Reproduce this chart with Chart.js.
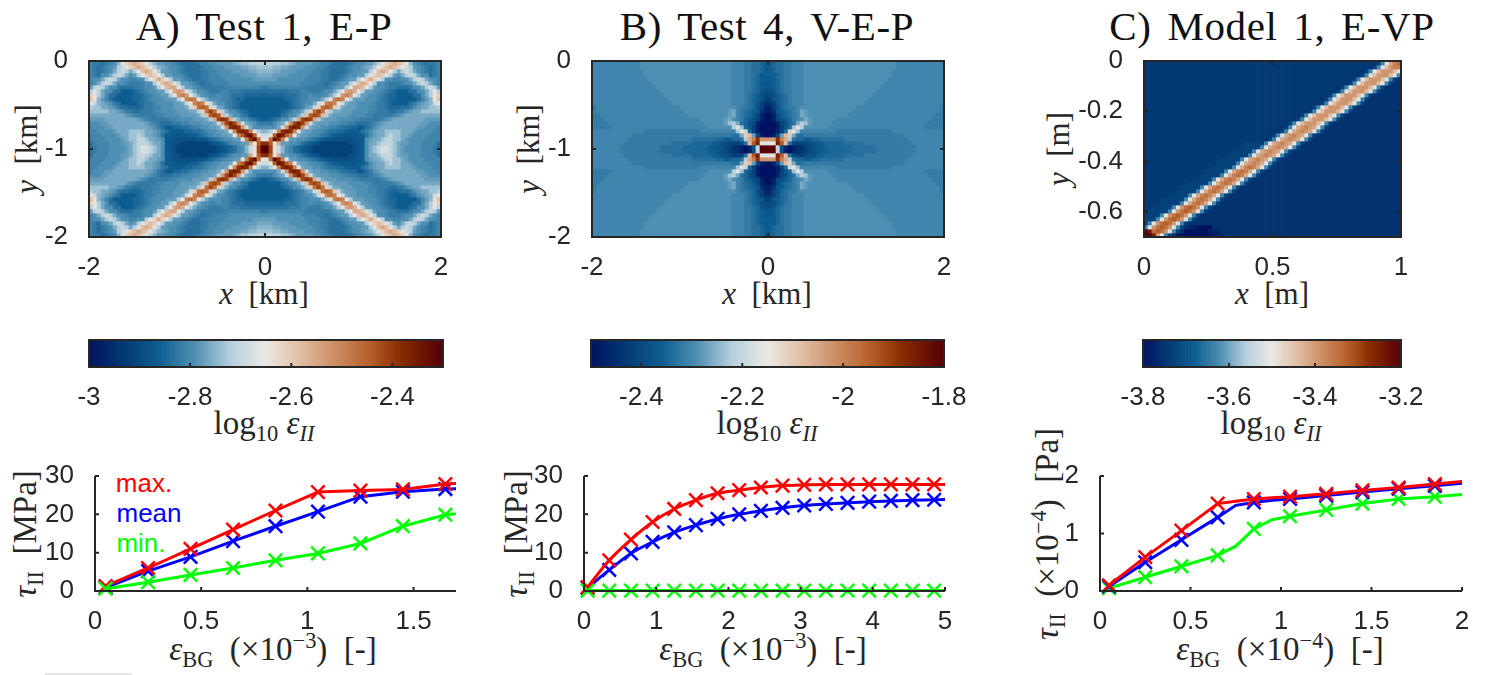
<!DOCTYPE html>
<html>
<head>
<meta charset="utf-8">
<title>Strain rate and stress panels</title>
<script src="https://cdn.jsdelivr.net/npm/chart.js@4"></script>
<style>
  html, body { margin: 0; background: #fff; width: 1492px; height: 675px; overflow: hidden; }
  canvas { position: absolute; }
  .lab { position: absolute; transform: translate(-50%, -50%); white-space: nowrap; font-family: "Liberation Serif", serif; font-size: 31px; color: #262626; }
  .big { font-size: 33px; }
  .rot { transform: translate(-50%, -50%) rotate(-90deg); }
  .ttl { font-size: 41px; letter-spacing: 0.6px; word-spacing: 5px; color: #111; }
  .leg { font-family: "Liberation Sans", sans-serif; font-size: 26px; }
  sub, sup { font-size: .68em; line-height: 0; }
</style>
</head>
<body>
<div class="lab ttl" style="left:264px;top:26px">A) Test 1, E-P</div>
<div class="lab ttl" style="left:767px;top:26px">B) Test 4, V-E-P</div>
<div class="lab ttl" style="left:1272px;top:26px">C) Model 1, E-VP</div>

<div class="lab" style="left:264px;top:294px"><i>x</i>&nbsp; [km]</div>
<div class="lab" style="left:767px;top:294px"><i>x</i>&nbsp; [km]</div>
<div class="lab" style="left:1272px;top:294px"><i>x</i>&nbsp; [m]</div>
<div class="lab rot" style="left:27px;top:149px"><i>y</i>&nbsp; [km]</div>
<div class="lab rot" style="left:529px;top:149px"><i>y</i>&nbsp; [km]</div>
<div class="lab rot" style="left:1059px;top:149px"><i>y</i>&nbsp; [m]</div>

<div class="lab big" style="left:264px;top:423px">log<sub>10</sub> <i>ε<sub>II</sub></i></div>
<div class="lab big" style="left:767px;top:423px">log<sub>10</sub> <i>ε<sub>II</sub></i></div>
<div class="lab big" style="left:1271px;top:423px">log<sub>10</sub> <i>ε<sub>II</sub></i></div>

<div class="lab rot big" style="left:25px;top:534px"><i>τ</i><sub>II</sub>&nbsp; [MPa]</div>
<div class="lab rot big" style="left:516px;top:534px"><i>τ</i><sub>II</sub>&nbsp; [MPa]</div>
<div class="lab rot big" style="left:1047px;top:534px"><i>τ</i><sub>II</sub>&nbsp; (×10<sup>−4</sup>) &nbsp;[Pa]</div>

<div class="lab big" style="left:273px;top:649px"><i>ε</i><sub>BG</sub>&nbsp; (×10<sup>−3</sup>) &nbsp;[-]</div>
<div class="lab big" style="left:763px;top:649px"><i>ε</i><sub>BG</sub>&nbsp; (×10<sup>−3</sup>) &nbsp;[-]</div>
<div class="lab big" style="left:1280px;top:649px"><i>ε</i><sub>BG</sub>&nbsp; (×10<sup>−4</sup>) &nbsp;[-]</div>

<div class="lab leg" style="left:144px;top:483px;color:#ff0000">max.</div>
<div class="lab leg" style="left:149px;top:513px;color:#0000ff">mean</div>
<div class="lab leg" style="left:141px;top:543px;color:#00ff00">min.</div>
<div style="position:absolute;left:45px;top:673px;width:87px;height:2px;background:#e8e8e8"></div>

<script>
// Colour levels: a..z run from the bottom to the top of the colour bar,
// a capital is half a step above its small letter. "c12" means c repeated 12 times,
// spaces are only there to keep rows readable.
// Panels A and B are symmetric, so only the top left quarter is kept.
const testOneQuarter = [
  "hGGgGhHj mopqpom kjiiHH hGggggGhhH HiiiiIjJJkkKK",
  "hGgGhHikl mopqpom kjIiH HhGggggGhh HHHiiiiIIjjJJ",
  "hGgGhHIklkI kmpqpmk iiHH hGggggGGh hHHHHiiiiIIjj",
  "hGgHHIklkIHi kmopomk iiHH hGgggGGh hhHHHHHiiiiII",
  "hHHIklkIHHhhHH kmoqomk iiH hGggGGh hhhHHHHHHHiii",
  "hHIklkIHHhGGGhHH kmpqpmk iiH hGgGGh hhhHHHHHHHHH",
  "iklkIHHGgggGGhHHi kmpqqmk iiH hGGGGG GhhhhhhhhhG",
  "kmkIHHggfffFgGhHHii kmqrqmk IHH hGGGhh GGGgggggg",
  "onkIHggffffFFgGhHHii kmrsrmk IHH hhHhhG gggFFFFF",
  "pnjihgfffffFFgGhHHHiii kmstsmk IHH HhhGg FFfffff",
  "mljIiHGgffffFgGGhHHHHiiI lnstsnl IHH hGgF ffffff",
  "kJJIIiHGggFFFgGGhhHHHiiiI lotutol Iih GgFf fffff",
  "JJJJJIIiHGGggGGGhhHHHHiiiII kotvtok IHH GgFf fff",
  "IIIIIIIIIiHhGGGGGhhHHHHiiiiI kpuvupk IHH Ggff ff",
  "iiiiIIIIIIIIiHhGGGGGhhHHHHiiiI kqvwvqk IHH GgFf",
  "HHHiiIIIIIIIIIiHhGgggGGhhHHHiiiI lrvxvrl IiH GG",
  "hHHHiiIIIIIIIIIiHGgffFFggGhhHHiiI lrwxwrl IHHH",
  "hhHHHHiIIIJJJJIIiHGgffffFFggGhHHiiI mswxwsm kj",
  "hhhHHHHiIIJJKJIIiHgffEEEEffFgGhHHiiI msuxyum l",
  "hhhhHHHHiIJJKKJIIiHfEEeeeeeEEfFgGhHHii mswytn",
  "ghhhhHHHiiIJKKKJIIHfEeedddddddeEfFghHHii qnuw",
  "gGhhhHHHHiIJKLLKJIHfEeddddddddddeEfFghHj lnvz",
];

const testFourQuarter = [
  "hhhhhhhhhh hhHHHHHHHHHHHHHHH HHHHHHHHh hhGGg gFf",
  "hhhhhhhhhh hhHHHHHHHHHHHHHHH HHHHHHHHh hhGGg gFf",
  "hhhhhhhhhh hhhHHHHHHHHHHHHHH HHHHHHHHh hhGGg gFf",
  "hhhhhhhhhh hhhHHHHHHHHHHHHHH HHHHHHHHh hhGGg Fff",
  "hhhhhhhhhh hhhhHHHHHHHHHHHHH HHHHHHHHh hhGGg Fff",
  "hhhhhhhhhh hhhhhHHHHHHHHHHHH HHHHHHHHh hhGGg FfE",
  "hhhhhhhhhh hhhhhhHHHHHHHHHHH HHHHHHHHh hhGGg FfE",
  "hhhhhhhhhh hhhhhhhHHHHHHHHHH HHHHHHHHh hhGGg FEe",
  "hhhhhhhhhh hhhhhhhhHHHHHHHHH HHHHHHHHh hhGgF feD",
  "hhhhhhhhhh hhhhhhhhhHHHHHHHH HHHHHHHHh hhGgF fEd",
  "hhhhhhhhhh hhhhhhhhhhHHHHHHH HHHHHHHHh hhGgF Edc",
  "Ghhhhhhhhh hhhhhhhhhhhhHHHHH HHHHHHHHH hGGgF edb",
  "Ghhhhhhhhh hhhhhhhhhhhhhHHHH HHHHHHHiI hGgFf Ecb",
  "GGhhhhhhhh hhhhhhhhhhhhhhHHH HHHHHHHiI hGgFf Dba",
  "GGGhhhhhhh hhhhhhhhhhhhhhhhh HHHHHHiIH hGFfe Dba",
  "GGGGhhhhhh hhhhhhhhhhhhhhhhh hHHHHHiJk IgFeD baa",
  "GGGGGhhhhh hhhhhhhhhhhhhhhhh hhHHHHHHk mJFEd baa",
  "hhhhhhhhhh hhhGGGGGGGGGGGGGG hhhhhhhhh JnlFd baa",
  "hhhhhhhhhh GGGGGGGGGGGGGGGGG GGGGGGGGg gIopi Dba",
  "hhhhhhhhhG GGGGGGGGGGGGGGGgg ggggFFffF Fgkqs wrr",
  "hhhhhhhhGG GGGGGGGGGGgggggFF FFFffeeDd dDgpu xmm",
  "hhhhhhhGGG GGGGGGGggggggFFFF FFffEeDdc cbabe lzz",
];

const modelOneRows = [
  "C57 cdhmqst",
  "C56 cdhmprss",
  "C54 cdhmprrrpm",
  "C53 cdhmprrrpmh",
  "C51 cdhmprrrpmhdc",
  "C50 cdhmprrrpmhdc c1",
  "C48 cdhmprrrpmhdc c3",
  "C47 cdhmprrrpmhdc c4",
  "C45 cdhmprrrpmhdc c6",
  "C44 cdhmprrrpmhdc c7",
  "C43 cdhmprrrpmhdc c8",
  "C41 cdhmprrrpmhdc c10",
  "C40 cdhmprrrpmhdc c11",
  "C38 cdhmprrrpmhdc c13",
  "C37 cdhmprrrpmhdc c14",
  "C35 cdhmprrrpmhdc c16",
  "C34 cdhmqrsrqmhdc c17",
  "C33 cdhmqrsrqmhdc c18",
  "C31 cdhmqrsrqmhdc c20",
  "C30 cdhmqrsrqmhdc c21",
  "C25 d3 ddhmqrsrqmhdc c23",
  "C24 d3 ddhmqrsrqmhdc c24",
  "C22 d3 ddhmqrsrqmhdc c26",
  "C21 d3 ddhmqrsrqmhdc c27",
  "C19 d3 ddhmqrsrqmhdc c29",
  "C18 d3 ddhmqrsrqmhdc c30",
  "C17 d3 ddhmqstsqmhdc c31",
  "C15 d3 ddhmqstsqmhdc c33",
  "C14 d3 ddhmqstsqmhdc c34",
  "C12 d3 ddhmqstsqmhdc c36",
  "C11 d3 ddhmqstsqmhdc c37",
  "C9 d3 ddhmqstsqmhdc c39",
  "C8 d3 ddhmqstsqmhdc c40",
  "C6 d3 ddhmqstsqmhdc c42",
  "C5 d3 ddhmqstsqmhdc c43",
  "C4 d3 ddhmqstsqmhdc c44",
  "C2 d3 ddhmrtutrmhdc c46",
  "C1 d3 ddhmrtutrmhdc c47",
  "d2 ddhmrtutrmhdc c49",
  "d1 ddhmrtutrmhdc c50",
  "dhmrtutrmhdc c52",
  "hmrtutrmhdc b2 a4 c47",
  "zxtutrmhdc a6 b3 c45",
  "zzxrmhdc a9 b3 c44",
];

// Stress curves, panel A
const xA = [0.05, 0.25, 0.45, 0.65, 0.85, 1.05, 1.25, 1.45, 1.65, 1.85];
const maxA = [1.3, 6, 11, 16, 21, 25.8, 26.2, 26.5, 27.9, 28.5];
const meanA = [0.9, 5.2, 8.9, 13, 16.9, 20.7, 24.6, 25.9, 26.6, 27];
const minA = [0.6, 2.3, 4.2, 6, 8, 9.8, 12.4, 16.9, 19.9, 21];

// Panel B
const xB = [0.05, 0.35, 0.65, 0.95, 1.25, 1.55, 1.85, 2.15, 2.45, 2.75, 3.05, 3.35, 3.65, 3.95, 4.25, 4.55, 4.85, 5.15];
const maxB = [1, 8, 13.4, 18, 21.4, 23.7, 25.5, 26.3, 27, 27.5, 27.7, 27.8, 27.8, 27.8, 27.8, 27.8, 27.8, 27.8];
const meanB = [0.8, 5.5, 9.8, 12.8, 15.3, 17.2, 18.8, 20, 20.9, 21.7, 22.3, 22.7, 23, 23.3, 23.5, 23.7, 23.8, 24];
const minB = [0.1, 0.1, 0.1, 0.1, 0.1, 0.1, 0.1, 0.1, 0.1, 0.1, 0.1, 0.1, 0.1, 0.1, 0.1, 0.1, 0.1, 0.1];

// Panel C, markers only on every second sample around the bend
const xC = [0.05, 0.25, 0.45, 0.65, 0.75, 0.85, 0.95, 1.05, 1.25, 1.45, 1.65, 1.85, 2.05];
const markedC = [1, 1, 1, 1, 0, 1, 0, 1, 1, 1, 1, 1, 1];
const maxC = [0.1, 0.59, 1.05, 1.52, 1.56, 1.6, 1.62, 1.64, 1.69, 1.75, 1.8, 1.86, 1.92];
const meanC = [0.08, 0.5, 0.89, 1.28, 1.49, 1.54, 1.58, 1.6, 1.66, 1.72, 1.78, 1.83, 1.89];
const minC = [0.05, 0.24, 0.43, 0.62, 0.78, 1.08, 1.24, 1.3, 1.41, 1.52, 1.6, 1.64, 1.69];

// Colour map stops, as seen on the colour bars
const mapStops = [0, 0.1, 0.2, 0.3, 0.4, 0.5, 0.6, 0.7, 0.8, 0.875, 1];
const mapColors = ["#011261", "#033a75", "#0e5d91", "#4e8fb3", "#b5cfdd", "#ebe9e4", "#e0bda3", "#cb8b61", "#b35c25", "#8b2f03", "#560007"];

const AXIS_COLOR = "#262626";
const TICK_FONT = { family: "Liberation Sans", size: 26 };

Chart.defaults.animation = false;
Chart.defaults.events = [];
Chart.defaults.plugins.legend.display = false;
Chart.defaults.plugins.tooltip.enabled = false;

function hexToRgb(hex) {
  return [1, 3, 5].map(i => parseInt(hex.slice(i, i + 2), 16));
}

function levelColor(t) {
  let i = 0;
  while (i < mapStops.length - 2 && t > mapStops[i + 1]) i++;
  const f = (t - mapStops[i]) / (mapStops[i + 1] - mapStops[i]);
  const a = hexToRgb(mapColors[i]);
  const b = hexToRgb(mapColors[i + 1]);
  return `rgb(${a.map((v, k) => Math.round(v + (b[k] - v) * f)).join(",")})`;
}

// "C3 ab" -> [C, C, C, a, b] as numbers from 0 to 1
function decodeRow(row) {
  const out = [];
  for (const m of row.matchAll(/([a-zA-Z])(\d*)/g)) {
    const n = m[2] ? parseInt(m[2]) : 1;
    const lower = m[1].toLowerCase();
    const half = m[1] === lower ? 0 : 0.5;
    const v = Math.min(1, (lower.charCodeAt(0) - 97 + half) / 25);
    for (let i = 0; i < n; i++) out.push(v);
  }
  return out;
}

function mirrorQuarter(rows) {
  const top = rows.map(r => {
    const half = decodeRow(r);
    return half.concat(half.slice().reverse());
  });
  return top.concat(top.slice().reverse());
}

// MATLAB style axes: ticks point inwards, frame is optional
const matlabAxes = {
  id: "matlabAxes",
  afterDatasetsDraw(chart, args, opts) {
    const { ctx, chartArea: a, scales } = chart;
    const len = 4;
    ctx.save();
    ctx.strokeStyle = AXIS_COLOR;
    ctx.lineWidth = 2;
    ctx.beginPath();
    if (opts.frame) {
      ctx.rect(a.left, a.top, a.right - a.left, a.bottom - a.top);
    } else {
      ctx.moveTo(a.left, a.top);
      ctx.lineTo(a.left, a.bottom);
      ctx.lineTo(a.right, a.bottom);
    }
    scales.x.ticks.forEach(t => {
      const p = scales.x.getPixelForValue(t.value);
      ctx.moveTo(p, a.bottom);
      ctx.lineTo(p, a.bottom - len);
      if (opts.opposite) {
        ctx.moveTo(p, a.top);
        ctx.lineTo(p, a.top + len);
      }
    });
    if (scales.y.options.display) {
      scales.y.ticks.forEach(t => {
        const p = scales.y.getPixelForValue(t.value);
        ctx.moveTo(a.left, p);
        ctx.lineTo(a.left + len, p);
        if (opts.opposite) {
          ctx.moveTo(a.right, p);
          ctx.lineTo(a.right - len, p);
        }
      });
    }
    ctx.stroke();
    ctx.restore();
  },
};
Chart.register(matlabAxes);

// Puts a canvas on the page so that its plot area lands on the given box
function makeCanvas(box) {
  // top has to fit half a tick label plus its padding, or Chart.js moves the plot down
  const m = { left: 70, top: 32, right: 45, bottom: 40 };
  const c = document.createElement("canvas");
  c.width = box.r - box.l + m.left + m.right;
  c.height = box.b - box.t + m.top + m.bottom;
  c.style.left = box.l - m.left + "px";
  c.style.top = box.t - m.top + "px";
  document.body.appendChild(c);
  return { ctx: c.getContext("2d"), m };
}

function axis(m, side, range, step, extra) {
  return Object.assign({
    type: "linear",
    min: range[0],
    max: range[1],
    offset: false,
    grid: { display: false, offset: false },
    border: { display: false },
    ticks: {
      stepSize: step,
      includeBounds: false,
      autoSkip: false,
      maxRotation: 0,
      color: AXIS_COLOR,
      font: TICK_FONT,
      padding: side === "x" ? 7 : 13,
      callback: v => String(+v.toFixed(2)),
    },
    afterFit(s) {
      if (side === "x") s.height = m.bottom;
      else s.width = m.left;
    },
  }, extra);
}

function heatChart(box, rows, xRange, yRange, xStep, yStep) {
  const { ctx, m } = makeCanvas(box);
  const cols = rows[0].length;
  const dx = (xRange[1] - xRange[0]) / cols;
  const dy = (yRange[1] - yRange[0]) / rows.length;
  // one stacked bar dataset per row, stacking down from y = 0
  const datasets = rows.map(row => ({
    stack: "cells",
    data: row.map((v, i) => ({ x: xRange[0] + (i + 0.5) * dx, y: -dy })),
    backgroundColor: row.map(levelColor),
    barPercentage: 1,
    categoryPercentage: 1,
    borderWidth: 0,
  }));
  return new Chart(ctx, {
    type: "bar",
    data: { datasets },
    options: {
      responsive: false,
      layout: { padding: { top: m.top, right: m.right } },
      scales: {
        x: axis(m, "x", xRange, xStep, { stacked: true }),
        y: axis(m, "y", yRange, yStep, { stacked: true }),
      },
      plugins: { matlabAxes: { frame: true, opposite: true } },
    },
  });
}

function colorBar(box, range, step) {
  const { ctx, m } = makeCanvas(box);
  const n = 176;
  const dx = (range[1] - range[0]) / n;
  const cells = Array.from({ length: n }, (_, i) => ({ x: range[0] + (i + 0.5) * dx, y: [0, 1] }));
  return new Chart(ctx, {
    type: "bar",
    data: {
      datasets: [{
        data: cells,
        backgroundColor: cells.map((_, i) => levelColor((i + 0.5) / n)),
        barPercentage: 1,
        categoryPercentage: 1,
        borderWidth: 0,
      }],
    },
    options: {
      responsive: false,
      layout: { padding: { top: m.top, left: m.left, right: m.right } },
      scales: {
        x: axis(m, "x", range, step, {}),
        y: axis(m, "y", [0, 1], 1, { display: false, afterFit: undefined }),
      },
      plugins: { matlabAxes: { frame: true, opposite: false } },
    },
  });
}

function curve(label, color, xs, ys, marked, smooth) {
  return {
    label,
    data: xs.map((x, i) => ({ x, y: ys[i] })),
    borderColor: color,
    borderWidth: 3,
    pointStyle: "crossRot",
    pointRadius: marked ? marked.map(v => (v ? 9.5 : 0)) : 9.5,
    pointBorderColor: color,
    pointBorderWidth: 2.5,
    pointBackgroundColor: color,
    fill: false,
    cubicInterpolationMode: smooth ? "monotone" : "default",
    clip: { left: 14, top: 14, right: 0, bottom: 14 },
  };
}

function lineChart(box, datasets, xRange, yRange, xStep, yStep) {
  const { ctx, m } = makeCanvas(box);
  return new Chart(ctx, {
    type: "line",
    data: { datasets },
    options: {
      responsive: false,
      layout: { padding: { top: m.top, right: m.right } },
      scales: {
        x: axis(m, "x", xRange, xStep, {}),
        y: axis(m, "y", yRange, yStep, {}),
      },
      plugins: { matlabAxes: { frame: false, opposite: false } },
    },
  });
}

// Top row
heatChart({ l: 89, t: 61, r: 441, b: 237 }, mirrorQuarter(testOneQuarter), [-2, 2], [-2, 0], 2, 1);
heatChart({ l: 592, t: 61, r: 944, b: 237 }, mirrorQuarter(testFourQuarter), [-2, 2], [-2, 0], 2, 1);
heatChart({ l: 1144, t: 61, r: 1401, b: 237 }, modelOneRows.map(decodeRow), [0, 1], [-0.7, 0], 0.5, 0.2);

// Colour bars
colorBar({ l: 89, t: 340, r: 443, b: 367 }, [-3, -2.3], 0.2);
colorBar({ l: 591, t: 340, r: 944, b: 367 }, [-2.5, -1.8], 0.2);
colorBar({ l: 1143, t: 340, r: 1401, b: 367 }, [-3.8, -3.2], 0.2);

// Bottom row, first dataset ends up on top
lineChart({ l: 95, t: 476, r: 456, b: 591 }, [
  curve("min.", "#00ff00", xA, minA),
  curve("max.", "#ff0000", xA, maxA),
  curve("mean", "#0000ff", xA, meanA),
], [0, 1.7], [0, 30], 0.5, 10);

lineChart({ l: 584, t: 476, r: 945, b: 591 }, [
  curve("min.", "#00ff00", xB, minB, null, true),
  curve("max.", "#ff0000", xB, maxB, null, true),
  curve("mean", "#0000ff", xB, meanB, null, true),
], [0, 5], [0, 30], 1, 10);

lineChart({ l: 1100, t: 476, r: 1462, b: 591 }, [
  curve("max.", "#ff0000", xC, maxC, markedC),
  curve("mean", "#0000ff", xC, meanC, markedC),
  curve("min.", "#00ff00", xC, minC, markedC),
], [0, 2], [0, 2], 0.5, 1);
</script>
</body>
</html>
